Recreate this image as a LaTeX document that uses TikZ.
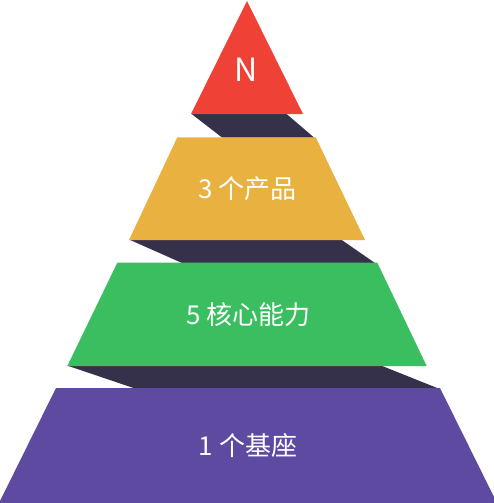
\documentclass[tikz,border=0pt]{standalone}
\usepackage{fontspec}
\setmainfont{Noto Sans CJK SC}
\definecolor{pred}{HTML}{EF4136}
\definecolor{pyellow}{HTML}{E9B13F}
\definecolor{pgreen}{HTML}{3ABE60}
\definecolor{ppurple}{HTML}{5E4AA1}
\definecolor{pdark}{HTML}{36314A}
\tikzset{
  lbl/.style={text=white, font=\fontsize{26}{30}\selectfont, inner sep=0pt, anchor=center},
  band/.style={fill=pdark, draw=none},
}
\begin{document}
\begin{tikzpicture}[x=1pt,y=-1pt]
\useasboundingbox (0,0) rectangle (494,503);
% shadow bands
\fill[pdark] (191,113.5) -- (286,113.5) -- (314,137.5) -- (222,137.5) -- cycle;
\fill[pdark] (129,239.5) -- (341,239.5) -- (375,263) -- (182,263) -- cycle;
\fill[pdark] (67,365.5) -- (381,365.5) -- (438.5,388.5) -- (135,388.5) -- cycle;
% layers
\fill[pred] (247,1) -- (303,114) -- (191,114) -- cycle;
\fill[pyellow] (177.3,137.3) -- (315.7,137.3) -- (365,240) -- (129,240) -- cycle;
\fill[pgreen] (117.3,262.7) -- (377.3,262.7) -- (426.7,366) -- (67.3,366) -- cycle;
\fill[ppurple] (56,388) -- (440,388) -- (497,503) -- (-1,503) -- cycle;
% labels
\node[lbl, font=\fontsize{32}{36}\selectfont] (n) at (246.5,70) {N};
\node[lbl] (l2) at (247.5,189) {3 个产品};
\node[lbl] (l3) at (248.5,315) {5 核心能力};
\node[lbl] (l4) at (248,445.5) {1 个基座};
\end{tikzpicture}
\end{document}
